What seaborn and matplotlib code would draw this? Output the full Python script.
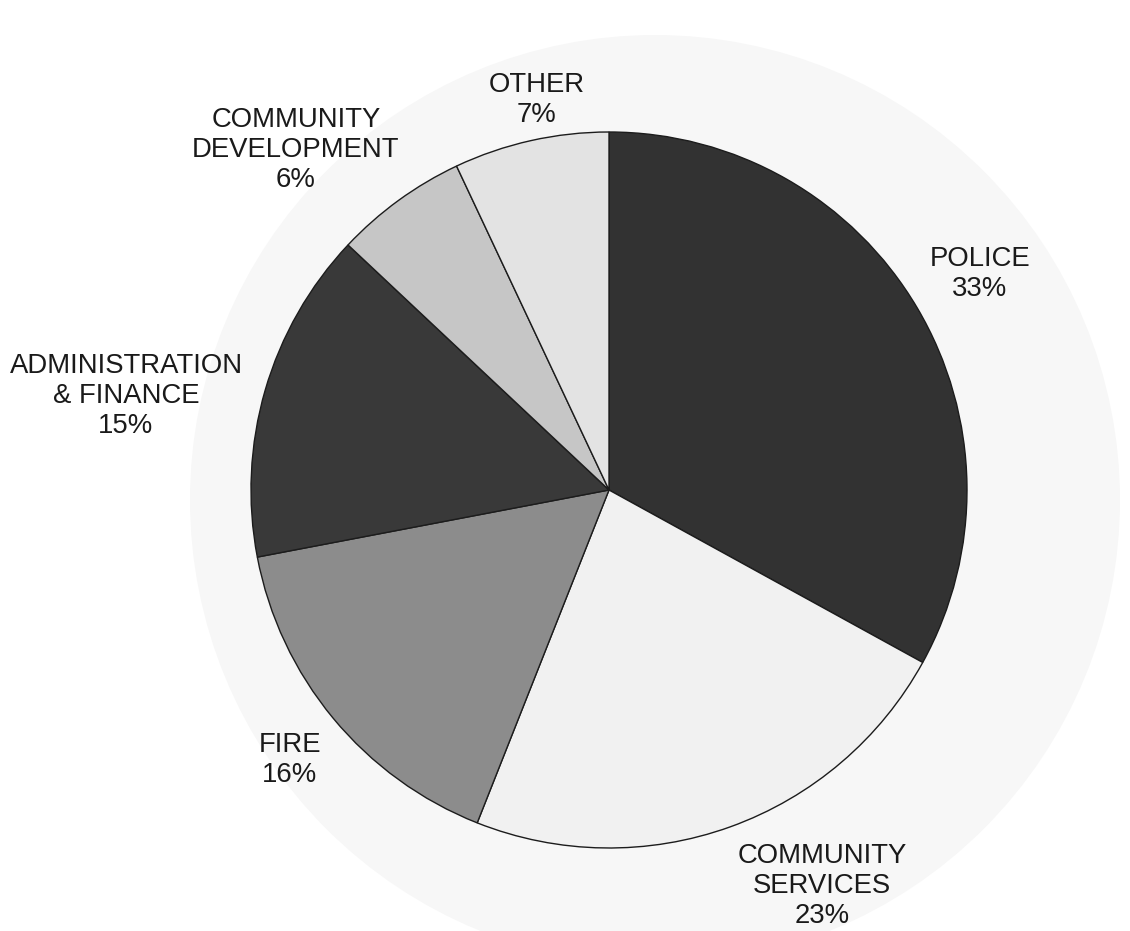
import matplotlib
matplotlib.use("Agg")
import matplotlib.pyplot as plt
import seaborn as sns
from matplotlib.patches import Circle

sns.set_theme(style="white")
plt.rcParams['font.family'] = ['Liberation Sans', 'DejaVu Sans']

# Data
categories = ["POLICE", "COMMUNITY\nSERVICES", "FIRE", "ADMINISTRATION\n& FINANCE",
              "COMMUNITY\nDEVELOPMENT", "OTHER"]
shares = [33, 23, 16, 15, 6, 7]
colors = ["#323232", "#f1f1f1", "#8c8c8c", "#393939", "#c6c6c6", "#e3e3e3"]

W, H = 1130, 931
fig = plt.figure(figsize=(W / 100, H / 100), dpi=100)
ax = fig.add_axes([0, 0, 1, 1])

cx, cy, r = 609, H - 490, 358

# faint show-through background disc
ax.add_patch(Circle((655, H - 500), 465, facecolor="#f7f7f7", edgecolor="none", zorder=0))

ax.pie(shares, colors=colors, startangle=90, counterclock=False,
       center=(cx, cy), radius=r, frame=True,
       wedgeprops=dict(edgecolor="#1c1c1c", linewidth=1.0, zorder=2))

label_pos = [(980, 274), (822, 886), (290, 760), (126, 396), (296, 150), (537, 100)]
for cat, val, (x, y) in zip(categories, shares, label_pos):
    ax.text(x, H - y, f"{cat}\n{val}%", ha="center", va="center",
            fontsize=19.8, color="#1a1a1a", linespacing=1.22, zorder=3)

ax.set_xlim(0, W)
ax.set_ylim(0, H)
ax.set_aspect("equal")
ax.axis("off")
fig.savefig("out.png", dpi=100, facecolor="white")
